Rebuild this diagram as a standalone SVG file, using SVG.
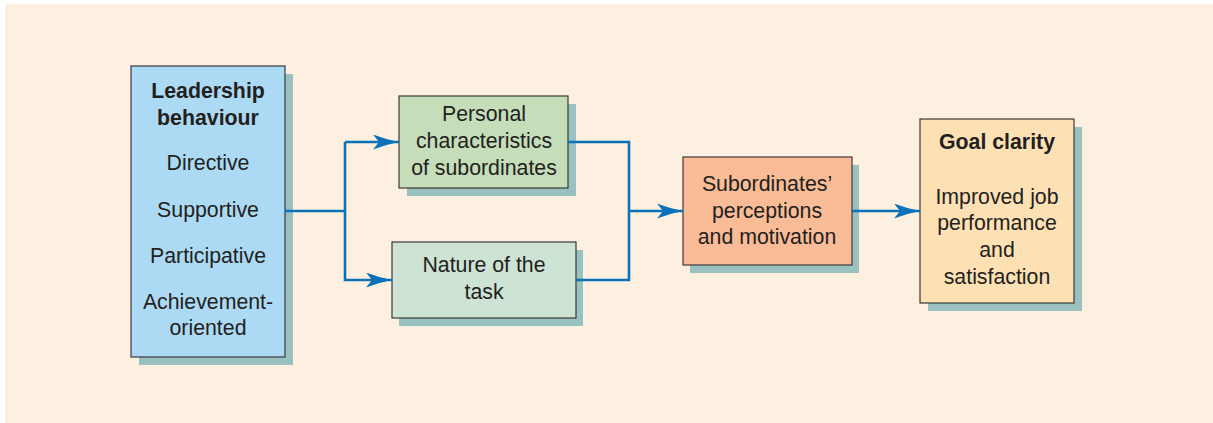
<svg xmlns="http://www.w3.org/2000/svg" width="1213" height="423" viewBox="0 0 1213 423">
  <style>
    .box { stroke: #3a3a3a; stroke-width: 1.2; }
    .shadow { fill: #98c1bf; }
    .wire { fill: none; stroke: #0b72b9; stroke-width: 2.6; }
    text { font-family: "Liberation Sans", Arial, sans-serif; font-size: 21.3px; fill: #231f20; text-anchor: middle; }
    .b { font-weight: bold; }
  </style>
  <defs>
    <marker id="arrow" viewBox="0 0 26 15" refX="26" refY="7.5" markerWidth="26" markerHeight="15" markerUnits="userSpaceOnUse" orient="auto">
      <path d="M0,0 Q13,5 26,7.5 Q13,10 0,15 L6,7.5 Z" fill="#0b72b9"/>
    </marker>
  </defs>

  <rect x="0" y="0" width="1213" height="423" fill="#ffffff"/>
  <rect x="5" y="4" width="1208" height="419" fill="#fdf0e1"/>

  <g id="leadership">
    <rect class="shadow" x="139" y="74" width="154" height="291"/>
    <rect class="box" x="131" y="66" width="154" height="291" fill="#acdaf4"/>
    <text class="b" x="208" y="98">Leadership</text>
    <text class="b" x="208" y="125">behaviour</text>
    <text x="208" y="170">Directive</text>
    <text x="208" y="217">Supportive</text>
    <text x="208" y="263">Participative</text>
    <text x="208" y="309">Achievement-</text>
    <text x="208" y="335">oriented</text>
  </g>

  <g id="personal">
    <rect class="shadow" x="407" y="104" width="169" height="92"/>
    <rect class="box" x="399" y="96" width="169" height="92" fill="#c5ddb9"/>
    <text x="484" y="121">Personal</text>
    <text x="484" y="148">characteristics</text>
    <text x="484" y="175">of subordinates</text>
  </g>

  <g id="task">
    <rect class="shadow" x="399" y="250" width="184" height="76"/>
    <rect class="box" x="392" y="242" width="184" height="76" fill="#cde3d4"/>
    <text x="484" y="272">Nature of the</text>
    <text x="484" y="299">task</text>
  </g>

  <g id="perceptions">
    <rect class="shadow" x="690" y="165" width="169" height="108"/>
    <rect class="box" x="683" y="157" width="169" height="108" fill="#f9bc97"/>
    <text x="767" y="191">Subordinates’</text>
    <text x="767" y="218">perceptions</text>
    <text x="767" y="244">and motivation</text>
  </g>

  <g id="outcome">
    <rect class="shadow" x="928" y="127" width="154" height="184"/>
    <rect class="box" x="920" y="119" width="154" height="184" fill="#fde1b5"/>
    <text class="b" x="997" y="149">Goal clarity</text>
    <text x="997" y="204">Improved job</text>
    <text x="997" y="230">performance</text>
    <text x="997" y="257">and</text>
    <text x="997" y="284">satisfaction</text>
  </g>

  <!-- connectors drawn over the drop shadows -->
  <g id="connectors">
    <path class="wire" d="M285,211 H345 V142" />
    <path class="wire" d="M345,142 H399" marker-end="url(#arrow)"/>
    <path class="wire" d="M345,211 V280 H392" marker-end="url(#arrow)"/>
    <path class="wire" d="M568,142 H629 V280 H576" />
    <path class="wire" d="M629,211 H683" marker-end="url(#arrow)"/>
    <path class="wire" d="M852,211 H920" marker-end="url(#arrow)"/>
  </g>
</svg>
